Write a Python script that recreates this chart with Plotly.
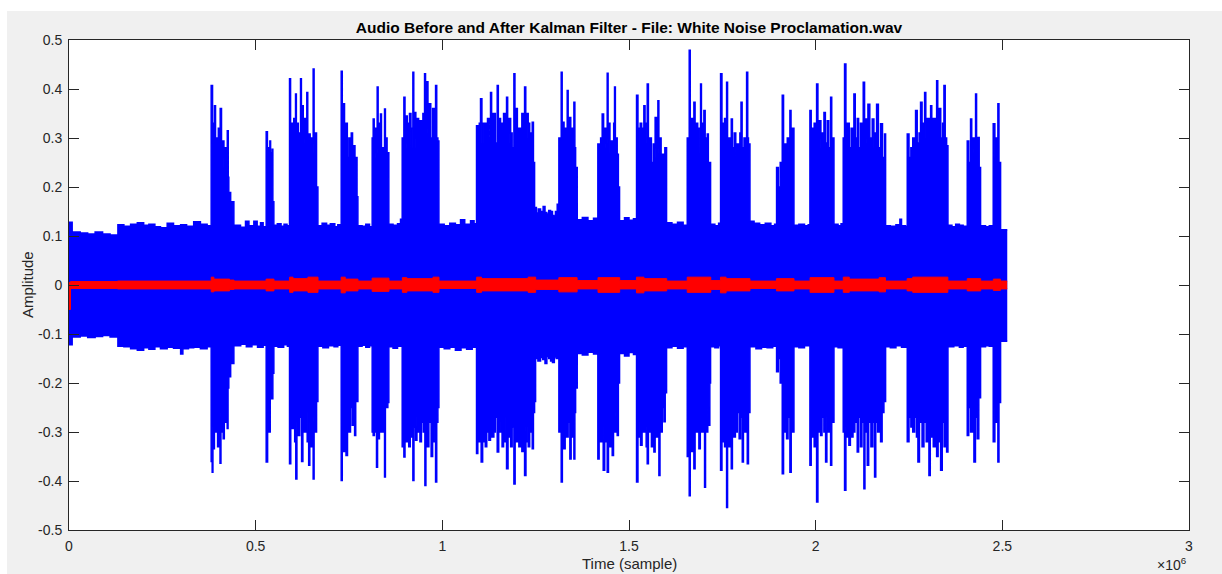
import plotly.graph_objects as go

# ---------------- data (time in units of 1e6 samples) ----------------
# upper envelope of the original (blue) audio, one line per segment
up_t = [0.000, 0.0085, 0.030, 0.050, 0.070, 0.090, 0.110, 0.131, 0.147, 0.165, 0.183, 0.200, 0.214, 0.230, 0.245, 0.263, 0.280, 0.299, 0.315, 0.334, 0.352, 0.370,
        0.3808, 0.3845, 0.3870, 0.3897, 0.3925, 0.3950, 0.3978, 0.4000, 0.4028, 0.4050, 0.4085, 0.4120, 0.4150, 0.4180, 0.4210, 0.4240, 0.4265, 0.4280, 0.4330, 0.4370,
        0.4416, 0.4594, 0.4728, 0.4820, 0.4951, 0.5040, 0.5130, 0.5200,
        0.5282, 0.5315, 0.5340, 0.5365, 0.5380, 0.5400, 0.5420, 0.5443, 0.5460,
        0.5487, 0.5580, 0.5680, 0.5760, 0.5840,
        0.5907, 0.5935, 0.5960, 0.5990, 0.6020, 0.6045, 0.6068, 0.6090, 0.6110, 0.6140, 0.6170, 0.6202, 0.6225, 0.6245, 0.6275, 0.6300, 0.6330, 0.6370, 0.6395, 0.6430, 0.6460, 0.6490, 0.6515, 0.6540, 0.6565, 0.6590, 0.6630,
        0.6667, 0.6780, 0.6900, 0.7000, 0.7120, 0.7200,
        0.7291, 0.7320, 0.7345, 0.7380, 0.7420, 0.7455, 0.7497, 0.7530, 0.7560, 0.7595, 0.7630, 0.7660, 0.7690, 0.7715,
        0.7738, 0.7850, 0.7950, 0.8050,
        0.8121, 0.8148, 0.8175, 0.8200, 0.8230, 0.8255, 0.8280, 0.8300, 0.8320, 0.8344, 0.8370, 0.8400, 0.8425, 0.8452, 0.8475, 0.8500, 0.8520, 0.8540,
        0.8567, 0.8680, 0.8800, 0.8880,
        0.8925, 0.8970, 0.9000, 0.9030, 0.9060, 0.9090, 0.9120, 0.9160, 0.9190, 0.9211, 0.9235, 0.9250, 0.9290, 0.9330, 0.9365, 0.9400, 0.9440, 0.9480, 0.9524, 0.9550, 0.9580, 0.9615, 0.9650, 0.9690, 0.9740, 0.9780, 0.9819, 0.9850, 0.9881,
        0.9908, 1.0050, 1.0200, 1.0350, 1.0488, 1.0600, 1.0756, 1.0850,
        1.0916, 1.0960, 1.0990, 1.1023, 1.1060, 1.1095, 1.1130, 1.1170, 1.1210, 1.1250, 1.1291, 1.1320, 1.1350, 1.1380, 1.1420, 1.1470, 1.1500, 1.1530, 1.1560, 1.1600, 1.1640, 1.1680, 1.1720, 1.1750, 1.1790, 1.1830, 1.1870, 1.1917, 1.1945, 1.1980, 1.2010, 1.2050, 1.2090, 1.2130, 1.2170, 1.2203, 1.2235, 1.2270, 1.2300, 1.2340, 1.2375, 1.2408, 1.2440,
        1.2471, 1.2520, 1.2570, 1.2631, 1.2700, 1.2750, 1.2800, 1.2850, 1.2899, 1.2950, 1.2988, 1.3030, 1.3077,
        1.3122, 1.3184, 1.3210, 1.3230, 1.3260, 1.3300, 1.3345, 1.3370, 1.3400, 1.3440, 1.3480, 1.3524, 1.3550, 1.3570,
        1.3613, 1.3750, 1.3900, 1.4050,
        1.4166, 1.4200, 1.4240, 1.4282, 1.4320, 1.4360, 1.4390, 1.4416, 1.4440, 1.4460, 1.4490, 1.4523, 1.4560, 1.4590, 1.4613, 1.4635, 1.4650, 1.4684, 1.4715,
        1.4747, 1.4880, 1.5000, 1.5120,
        1.5202, 1.5240, 1.5270, 1.5300, 1.5340, 1.5370, 1.5398, 1.5430, 1.5460, 1.5488, 1.5520, 1.5560, 1.5600, 1.5650, 1.5680, 1.5700, 1.5740, 1.5774, 1.5800, 1.5830, 1.5860, 1.5890, 1.5930, 1.5960,
        1.6006, 1.6150, 1.6300, 1.6450,
        1.6560, 1.6613, 1.6640, 1.6660, 1.6700, 1.6738, 1.6770, 1.6800, 1.6840, 1.6880, 1.6917, 1.6940, 1.6960, 1.6985, 1.7006, 1.7040, 1.7070, 1.7096, 1.7125, 1.7150,
        1.7185, 1.7300, 1.7400,
        1.7453, 1.7490, 1.7530, 1.7560, 1.7590, 1.7614, 1.7640, 1.7680, 1.7710, 1.7739, 1.7770, 1.7820, 1.7860, 1.7900, 1.7940, 1.7970, 1.8000, 1.8030, 1.8080, 1.8120, 1.8150, 1.8180, 1.8200,
        1.8240, 1.8350, 1.8500, 1.8650, 1.8800, 1.8900,
        1.8953, 1.9000, 1.9050, 1.9080, 1.9105, 1.9140, 1.9180, 1.9210, 1.9239, 1.9280, 1.9310, 1.9340, 1.9380,
        1.9418, 1.9550, 1.9700, 1.9800,
        1.9846, 1.9880, 1.9920, 1.9960, 2.0000, 2.0025, 2.0060, 2.0100, 2.0140, 2.0180, 2.0222, 2.0260, 2.0311, 2.0350, 2.0400, 2.0430, 2.0450,
        2.0490, 2.0600, 2.0680,
        2.0738, 2.0774, 2.0810, 2.0850, 2.0900, 2.0950, 2.0990, 2.1024, 2.1060, 2.1113, 2.1150, 2.1200, 2.1240, 2.1274, 2.1310, 2.1340, 2.1370, 2.1400, 2.1450, 2.1515, 2.1560, 2.1600, 2.1632, 2.1680, 2.1739, 2.1790, 2.1846,
        2.1873, 2.2000, 2.2150, 2.2256, 2.2300, 2.2400,
        2.2453, 2.2500, 2.2550, 2.2600, 2.2640, 2.2676, 2.2720, 2.2770, 2.2810, 2.2850, 2.2890, 2.2918, 2.2950, 2.2990, 2.3040, 2.3079, 2.3110, 2.3150, 2.3200, 2.3240, 2.3270, 2.3300, 2.3350, 2.3400, 2.3436, 2.3470, 2.3508,
        2.3543, 2.3650, 2.3750, 2.3850, 2.3950,
        2.4060, 2.4100, 2.4149, 2.4180, 2.4220, 2.4250, 2.4283, 2.4310, 2.4346, 2.4380,
        2.4417, 2.4550, 2.4650,
        2.4756, 2.4800, 2.4840, 2.4881, 2.4910,
        2.4953, 2.5132]
up_v = [0.128, 0.108, 0.106, 0.104, 0.108, 0.104, 0.102, 0.123, 0.120, 0.124, 0.127, 0.122, 0.124, 0.119, 0.117, 0.126, 0.121, 0.123, 0.120, 0.129, 0.124, 0.121,
        0.407, 0.290, 0.330, 0.366, 0.270, 0.300, 0.250, 0.320, 0.270, 0.360, 0.260, 0.294, 0.240, 0.280, 0.230, 0.315, 0.220, 0.189, 0.140, 0.170,
        0.122, 0.118, 0.130, 0.121, 0.130, 0.120, 0.127, 0.119,
        0.313, 0.240, 0.280, 0.230, 0.294, 0.220, 0.270, 0.277, 0.170,
        0.122, 0.125, 0.120, 0.124, 0.121,
        0.421, 0.300, 0.330, 0.280, 0.340, 0.290, 0.390, 0.300, 0.330, 0.270, 0.310, 0.421, 0.300, 0.366, 0.290, 0.340, 0.300, 0.393, 0.280, 0.308, 0.250, 0.300, 0.270, 0.441, 0.290, 0.310, 0.200,
        0.121, 0.126, 0.122, 0.125, 0.119, 0.123,
        0.436, 0.300, 0.370, 0.280, 0.330, 0.260, 0.300, 0.240, 0.310, 0.250, 0.284, 0.220, 0.260, 0.180,
        0.121, 0.120, 0.124, 0.119,
        0.300, 0.339, 0.260, 0.320, 0.270, 0.404, 0.280, 0.330, 0.270, 0.349, 0.240, 0.280, 0.250, 0.359, 0.260, 0.300, 0.220, 0.270,
        0.124, 0.122, 0.125, 0.134,
        0.300, 0.383, 0.280, 0.345, 0.290, 0.330, 0.350, 0.280, 0.320, 0.434, 0.300, 0.352, 0.280, 0.340, 0.290, 0.335, 0.300, 0.350, 0.431, 0.320, 0.415, 0.310, 0.370, 0.300, 0.360, 0.310, 0.407, 0.300, 0.294,
        0.124, 0.121, 0.126, 0.123, 0.133, 0.124, 0.131, 0.125,
        0.325, 0.280, 0.330, 0.380, 0.290, 0.330, 0.330, 0.280, 0.340, 0.300, 0.393, 0.300, 0.350, 0.350, 0.290, 0.407, 0.300, 0.340, 0.330, 0.280, 0.350, 0.300, 0.383, 0.290, 0.340, 0.310, 0.280, 0.431, 0.300, 0.360, 0.290, 0.320, 0.280, 0.350, 0.300, 0.404, 0.300, 0.350, 0.330, 0.280, 0.310, 0.332, 0.250,
        0.158, 0.147, 0.155, 0.150, 0.160, 0.148, 0.145, 0.152, 0.150, 0.142, 0.140, 0.150, 0.165,
        0.300, 0.434, 0.300, 0.332, 0.280, 0.320, 0.397, 0.300, 0.342, 0.280, 0.320, 0.373, 0.280, 0.240,
        0.133, 0.138, 0.131, 0.136,
        0.288, 0.240, 0.300, 0.349, 0.280, 0.320, 0.290, 0.432, 0.300, 0.330, 0.270, 0.294, 0.260, 0.330, 0.404, 0.290, 0.300, 0.267, 0.200,
        0.131, 0.137, 0.132, 0.135,
        0.387, 0.280, 0.320, 0.330, 0.270, 0.320, 0.366, 0.290, 0.330, 0.410, 0.280, 0.300, 0.250, 0.288, 0.260, 0.342, 0.280, 0.376, 0.270, 0.300, 0.240, 0.267, 0.220, 0.280,
        0.127, 0.124, 0.128, 0.122,
        0.300, 0.479, 0.300, 0.340, 0.280, 0.373, 0.290, 0.330, 0.270, 0.320, 0.410, 0.290, 0.330, 0.280, 0.356, 0.260, 0.300, 0.308, 0.220, 0.250,
        0.124, 0.121, 0.126,
        0.431, 0.300, 0.330, 0.340, 0.290, 0.414, 0.300, 0.300, 0.260, 0.339, 0.280, 0.310, 0.260, 0.288, 0.250, 0.310, 0.373, 0.280, 0.300, 0.270, 0.434, 0.300, 0.288,
        0.130, 0.126, 0.123, 0.126, 0.121, 0.124,
        0.240, 0.200, 0.250, 0.220, 0.387, 0.280, 0.288, 0.240, 0.300, 0.270, 0.356, 0.280, 0.320,
        0.122, 0.124, 0.121, 0.123,
        0.356, 0.280, 0.320, 0.330, 0.280, 0.410, 0.300, 0.335, 0.280, 0.310, 0.352, 0.290, 0.335, 0.280, 0.383, 0.280, 0.300,
        0.124, 0.121, 0.125,
        0.300, 0.451, 0.300, 0.330, 0.280, 0.320, 0.280, 0.390, 0.300, 0.340, 0.280, 0.330, 0.290, 0.414, 0.300, 0.339, 0.290, 0.369, 0.300, 0.339, 0.280, 0.310, 0.369, 0.280, 0.329, 0.260, 0.308,
        0.121, 0.120, 0.123, 0.134, 0.121, 0.120,
        0.308, 0.260, 0.280, 0.300, 0.260, 0.356, 0.290, 0.310, 0.373, 0.290, 0.330, 0.393, 0.300, 0.340, 0.290, 0.366, 0.290, 0.340, 0.300, 0.417, 0.310, 0.360, 0.300, 0.330, 0.407, 0.300, 0.284,
        0.122, 0.119, 0.124, 0.122, 0.120,
        0.294, 0.250, 0.339, 0.270, 0.300, 0.280, 0.390, 0.280, 0.301, 0.240,
        0.121, 0.119, 0.121,
        0.329, 0.260, 0.300, 0.370, 0.250,
        0.113, 0.113]

# lower envelope of the original (blue) audio, one line per segment
lo_t = [0.000, 0.0085, 0.030, 0.050, 0.070, 0.090, 0.110, 0.131, 0.147, 0.165, 0.183, 0.200, 0.214, 0.230, 0.245, 0.263, 0.280, 0.299, 0.305, 0.320, 0.334, 0.352, 0.370,
        0.3808, 0.3835, 0.3855, 0.3870, 0.3895, 0.3920, 0.3950, 0.3980, 0.4010, 0.4045, 0.4070, 0.4090, 0.4110, 0.4130, 0.4160, 0.4190, 0.4215, 0.4237, 0.4260, 0.4280, 0.4330, 0.4370,
        0.4416, 0.4600, 0.4750, 0.4900, 0.5050, 0.5200,
        0.5282, 0.5320, 0.5360, 0.5390, 0.5425, 0.5460,
        0.5487, 0.5600, 0.5750, 0.5850,
        0.5907, 0.5940, 0.5970, 0.6010, 0.6045, 0.6075, 0.6105, 0.6140, 0.6180, 0.6230, 0.6265, 0.6300, 0.6340, 0.6380, 0.6420, 0.6450, 0.6480, 0.6510, 0.6540, 0.6565, 0.6590, 0.6631,
        0.6667, 0.6800, 0.6950, 0.7100, 0.7200,
        0.7291, 0.7320, 0.7350, 0.7385, 0.7420, 0.7460, 0.7500, 0.7540, 0.7586, 0.7620, 0.7650, 0.7680, 0.7700,
        0.7738, 0.7850, 0.7950, 0.8050,
        0.8121, 0.8148, 0.8180, 0.8210, 0.8237, 0.8265, 0.8290, 0.8315, 0.8340, 0.8380, 0.8420, 0.8452, 0.8475, 0.8500, 0.8540,
        0.8567, 0.8680, 0.8800,
        0.8925, 0.8970, 0.9000, 0.9040, 0.9070, 0.9100, 0.9140, 0.9180, 0.9211, 0.9240, 0.9283, 0.9320, 0.9360, 0.9400, 0.9440, 0.9490, 0.9533, 0.9560, 0.9600, 0.9640, 0.9700, 0.9740, 0.9780, 0.9819, 0.9850, 0.9881,
        0.9908, 1.0050, 1.0200, 1.0350, 1.0500, 1.0650, 1.0800,
        1.0916, 1.0950, 1.0990, 1.1040, 1.1080, 1.1115, 1.1150, 1.1190, 1.1220, 1.1247, 1.1290, 1.1330, 1.1380, 1.1420, 1.1470, 1.1510, 1.1550, 1.1600, 1.1640, 1.1680, 1.1720, 1.1760, 1.1800, 1.1830, 1.1870, 1.1917, 1.1950, 1.1990, 1.2050, 1.2090, 1.2130, 1.2170, 1.2203, 1.2240, 1.2270, 1.2300, 1.2340, 1.2375, 1.2408, 1.2440, 1.2471,
        1.2498, 1.2560, 1.2631, 1.2690, 1.2750, 1.2800, 1.2850, 1.2900, 1.2950, 1.3000, 1.3050,
        1.3122, 1.3184, 1.3215, 1.3250, 1.3290, 1.3330, 1.3370, 1.3416, 1.3450, 1.3490, 1.3524, 1.3550, 1.3570,
        1.3613, 1.3750, 1.3900, 1.4050,
        1.4166, 1.4200, 1.4240, 1.4280, 1.4309, 1.4350, 1.4390, 1.4416, 1.4450, 1.4480, 1.4515, 1.4550, 1.4585, 1.4620, 1.4650, 1.4684, 1.4715,
        1.4747, 1.4880, 1.5000, 1.5120,
        1.5202, 1.5240, 1.5270, 1.5309, 1.5350, 1.5390, 1.5430, 1.5460, 1.5488, 1.5520, 1.5560, 1.5600, 1.5630, 1.5667, 1.5700, 1.5740, 1.5770, 1.5801, 1.5830, 1.5850, 1.5890, 1.5935, 1.5970,
        1.6006, 1.6150, 1.6300, 1.6450,
        1.6560, 1.6613, 1.6640, 1.6670, 1.6700, 1.6738, 1.6770, 1.6800, 1.6840, 1.6872, 1.6910, 1.6950, 1.6990, 1.7024, 1.7050, 1.7080, 1.7110, 1.7140, 1.7165,
        1.7185, 1.7300, 1.7400,
        1.7453, 1.7490, 1.7530, 1.7560, 1.7590, 1.7614, 1.7640, 1.7680, 1.7710, 1.7739, 1.7770, 1.7810, 1.7850, 1.7900, 1.7950, 1.7990, 1.8034, 1.8065, 1.8100, 1.8135, 1.8168, 1.8200,
        1.8240, 1.8400, 1.8550, 1.8700, 1.8850,
        1.8953, 1.9000, 1.9050, 1.9080, 1.9105, 1.9140, 1.9180, 1.9221, 1.9260, 1.9310, 1.9345, 1.9380,
        1.9418, 1.9550, 1.9700,
        1.9846, 1.9880, 1.9920, 1.9960, 2.0000, 2.0025, 2.0060, 2.0100, 2.0132, 2.0170, 2.0220, 2.0266, 2.0300, 2.0330, 2.0370, 2.0400, 2.0430, 2.0460,
        2.0490, 2.0600,
        2.0738, 2.0774, 2.0810, 2.0850, 2.0890, 2.0930, 2.0970, 2.1000, 2.1050, 2.1113, 2.1150, 2.1200, 2.1240, 2.1292, 2.1320, 2.1350, 2.1382, 2.1420, 2.1480, 2.1530, 2.1578, 2.1610, 2.1660, 2.1700, 2.1739, 2.1780, 2.1828,
        2.1873, 2.2000, 2.2150, 2.2300,
        2.2453, 2.2500, 2.2550, 2.2600, 2.2650, 2.2700, 2.2739, 2.2780, 2.2850, 2.2900, 2.2960, 2.3000, 2.3034, 2.3070, 2.3110, 2.3150, 2.3200, 2.3240, 2.3280, 2.3320, 2.3347, 2.3390, 2.3440, 2.3480, 2.3508,
        2.3543, 2.3700, 2.3850, 2.3950,
        2.4060, 2.4100, 2.4150, 2.4200, 2.4239, 2.4280, 2.4328, 2.4370,
        2.4417, 2.4550, 2.4650,
        2.4756, 2.4800, 2.4840, 2.4881, 2.4910,
        2.4953, 2.5132]
lo_v = [-0.122, -0.106, -0.104, -0.107, -0.105, -0.103, -0.106, -0.125, -0.126, -0.130, -0.133, -0.128, -0.131, -0.126, -0.130, -0.127, -0.129, -0.141, -0.130, -0.128, -0.127, -0.130, -0.126,
        -0.360, -0.382, -0.290, -0.334, -0.270, -0.300, -0.260, -0.330, -0.270, -0.364, -0.260, -0.300, -0.250, -0.314, -0.240, -0.280, -0.230, -0.293, -0.210, -0.187, -0.140, -0.160,
        -0.124, -0.121, -0.126, -0.122, -0.127, -0.123,
        -0.361, -0.260, -0.300, -0.230, -0.232, -0.180,
        -0.125, -0.127, -0.122, -0.125,
        -0.365, -0.270, -0.293, -0.260, -0.320, -0.396, -0.280, -0.307, -0.270, -0.360, -0.280, -0.300, -0.260, -0.320, -0.368, -0.280, -0.330, -0.270, -0.396, -0.280, -0.300, -0.238,
        -0.125, -0.128, -0.124, -0.126, -0.123,
        -0.399, -0.290, -0.340, -0.280, -0.348, -0.260, -0.300, -0.250, -0.286, -0.240, -0.307, -0.220, -0.238,
        -0.125, -0.123, -0.127, -0.124,
        -0.300, -0.307, -0.260, -0.300, -0.372, -0.270, -0.314, -0.260, -0.300, -0.260, -0.300, -0.392, -0.250, -0.250, -0.240,
        -0.126, -0.129, -0.125,
        -0.330, -0.351, -0.280, -0.320, -0.270, -0.330, -0.280, -0.310, -0.399, -0.290, -0.317, -0.270, -0.300, -0.320, -0.280, -0.300, -0.409, -0.300, -0.330, -0.280, -0.350, -0.290, -0.320, -0.402, -0.280, -0.250,
        -0.127, -0.130, -0.127, -0.133, -0.128, -0.131, -0.127,
        -0.344, -0.280, -0.320, -0.361, -0.280, -0.320, -0.330, -0.270, -0.300, -0.317, -0.270, -0.310, -0.300, -0.270, -0.341, -0.280, -0.300, -0.330, -0.270, -0.320, -0.375, -0.280, -0.310, -0.330, -0.290, -0.406, -0.290, -0.320, -0.330, -0.280, -0.340, -0.300, -0.389, -0.290, -0.320, -0.330, -0.270, -0.300, -0.334, -0.260, -0.238,
        -0.150, -0.155, -0.148, -0.152, -0.160, -0.146, -0.150, -0.155, -0.158, -0.147, -0.150,
        -0.300, -0.402, -0.280, -0.334, -0.270, -0.310, -0.280, -0.355, -0.280, -0.310, -0.355, -0.260, -0.210,
        -0.140, -0.143, -0.137, -0.141,
        -0.355, -0.280, -0.320, -0.290, -0.378, -0.290, -0.320, -0.382, -0.280, -0.330, -0.280, -0.348, -0.270, -0.300, -0.260, -0.307, -0.200,
        -0.140, -0.145, -0.138, -0.142,
        -0.402, -0.280, -0.310, -0.327, -0.270, -0.300, -0.290, -0.330, -0.365, -0.280, -0.300, -0.330, -0.270, -0.341, -0.280, -0.310, -0.290, -0.389, -0.280, -0.300, -0.250, -0.279, -0.220,
        -0.128, -0.125, -0.129, -0.126,
        -0.350, -0.430, -0.290, -0.340, -0.280, -0.375, -0.280, -0.300, -0.270, -0.334, -0.280, -0.300, -0.270, -0.413, -0.270, -0.300, -0.250, -0.286, -0.200,
        -0.126, -0.128, -0.124,
        -0.378, -0.280, -0.320, -0.330, -0.280, -0.454, -0.300, -0.330, -0.270, -0.375, -0.280, -0.310, -0.300, -0.260, -0.314, -0.270, -0.361, -0.270, -0.300, -0.280, -0.365, -0.260,
        -0.126, -0.130, -0.127, -0.128, -0.125,
        -0.177, -0.150, -0.200, -0.180, -0.385, -0.280, -0.300, -0.314, -0.270, -0.382, -0.280, -0.300,
        -0.126, -0.128, -0.124,
        -0.368, -0.280, -0.310, -0.330, -0.280, -0.443, -0.300, -0.290, -0.307, -0.270, -0.300, -0.361, -0.270, -0.300, -0.280, -0.368, -0.270, -0.280,
        -0.126, -0.128,
        -0.300, -0.419, -0.290, -0.310, -0.327, -0.270, -0.310, -0.300, -0.280, -0.341, -0.270, -0.330, -0.280, -0.416, -0.290, -0.300, -0.368, -0.280, -0.330, -0.280, -0.392, -0.280, -0.300, -0.270, -0.320, -0.260, -0.238,
        -0.126, -0.128, -0.124, -0.127,
        -0.320, -0.270, -0.290, -0.300, -0.270, -0.310, -0.361, -0.280, -0.330, -0.280, -0.320, -0.290, -0.389, -0.280, -0.310, -0.330, -0.280, -0.350, -0.290, -0.320, -0.378, -0.280, -0.330, -0.270, -0.341,
        -0.126, -0.124, -0.127, -0.125,
        -0.307, -0.250, -0.300, -0.260, -0.361, -0.270, -0.314, -0.230,
        -0.126, -0.124, -0.125,
        -0.320, -0.250, -0.280, -0.361, -0.240,
        -0.115, -0.115]

# envelope of the Kalman-filtered (red) audio
red_t = [0.000, 0.004, 0.130, 0.381, 0.388, 0.430, 0.442, 0.528, 0.549, 0.591, 0.600, 0.640, 0.667, 0.729, 0.740,
         0.774, 0.812, 0.857, 0.893, 0.905, 0.975, 0.991, 1.092, 1.105, 1.230, 1.250, 1.312, 1.361, 1.417, 1.475,
         1.520, 1.540, 1.601, 1.656, 1.719, 1.745, 1.760, 1.824, 1.895, 1.942, 1.985, 2.049, 2.074, 2.090, 2.170,
         2.187, 2.245, 2.260, 2.354, 2.406, 2.442, 2.476, 2.495, 2.513]
red_hi = [0.005, 0.007, 0.008, 0.016, 0.012, 0.010, 0.008, 0.012, 0.008, 0.016, 0.013, 0.016, 0.008, 0.016, 0.012,
          0.008, 0.014, 0.008, 0.015, 0.013, 0.016, 0.008, 0.016, 0.013, 0.016, 0.010, 0.015, 0.009, 0.015, 0.009,
          0.016, 0.013, 0.008, 0.016, 0.009, 0.016, 0.013, 0.008, 0.013, 0.008, 0.015, 0.008, 0.016, 0.012, 0.015,
          0.008, 0.013, 0.016, 0.008, 0.013, 0.008, 0.012, 0.008, 0.008]
red_lo = [-0.050, -0.007, -0.008, -0.014, -0.012, -0.009, -0.008, -0.012, -0.008, -0.015, -0.012, -0.015, -0.008, -0.016, -0.012,
          -0.008, -0.013, -0.008, -0.015, -0.012, -0.015, -0.007, -0.015, -0.012, -0.015, -0.009, -0.014, -0.008, -0.015, -0.008,
          -0.016, -0.012, -0.008, -0.015, -0.009, -0.016, -0.012, -0.007, -0.012, -0.008, -0.015, -0.008, -0.015, -0.012, -0.014,
          -0.008, -0.012, -0.015, -0.008, -0.012, -0.008, -0.011, -0.008, -0.008]

assert len(up_t) == len(up_v) and len(lo_t) == len(lo_v)
assert len(red_t) == len(red_hi) == len(red_lo)

x_tickvals = [0, 0.5, 1, 1.5, 2, 2.5, 3]
x_ticktext = ["0", "0.5", "1", "1.5", "2", "2.5", "3"]
y_tickvals = [-0.5, -0.4, -0.3, -0.2, -0.1, 0, 0.1, 0.2, 0.3, 0.4, 0.5]
y_ticktext = ["-0.5", "-0.4", "-0.3", "-0.2", "-0.1", "0", "0.1", "0.2", "0.3", "0.4", "0.5"]

TITLE = "Audio Before and After Kalman Filter - File: White Noise Proclamation.wav"
XLABEL = "Time (sample)"
YLABEL = "Amplitude"

BLUE = "#0000ff"
RED = "#ff0000"
AX = "#262626"
FONT = "Liberation Sans, Arial, Helvetica, sans-serif"

fig = go.Figure()
fig.add_trace(go.Scatter(x=up_t, y=up_v, mode="lines", line=dict(color=BLUE, width=1.5, shape="hv"),
                         hoverinfo="skip", showlegend=False))
fig.add_trace(go.Scatter(x=lo_t, y=lo_v, mode="lines", line=dict(color=BLUE, width=1.5, shape="hv"),
                         fill="tonexty", fillcolor=BLUE, hoverinfo="skip", showlegend=False))
fig.add_trace(go.Scatter(x=red_t, y=red_hi, mode="lines", line=dict(color=RED, width=1, shape="hv"),
                         hoverinfo="skip", showlegend=False))
fig.add_trace(go.Scatter(x=red_t, y=red_lo, mode="lines", line=dict(color=RED, width=1, shape="hv"),
                         fill="tonexty", fillcolor=RED, hoverinfo="skip", showlegend=False))

W, H = 1222, 574
ML, MR, MT, MB = 69, 33, 40, 44
PW, PH = W - ML - MR, H - MT - MB

axis_common = dict(showline=True, linecolor=AX, linewidth=1, mirror="ticks", ticks="inside",
                   ticklen=10, tickcolor=AX, tickwidth=1, showgrid=False, zeroline=False,
                   tickfont=dict(family=FONT, size=14, color=AX))

fig.update_layout(
    template="none",
    width=W, height=H,
    margin=dict(l=ML, r=MR, t=MT, b=MB, pad=0),
    paper_bgcolor="#f0f0f0",
    plot_bgcolor="#ffffff",
    showlegend=False,
    title=dict(text="<b>" + TITLE + "</b>", x=0.5, xref="paper", xanchor="center",
               y=1 - 28 / H, yref="container", yanchor="middle",
               font=dict(family=FONT, size=15.5, color="#000000")),
    xaxis=dict(range=[0, 3], tickvals=x_tickvals, ticktext=x_ticktext, ticklabelstandoff=3, **axis_common),
    yaxis=dict(range=[-0.5, 0.5], tickvals=y_tickvals, ticktext=y_ticktext, ticklabelstandoff=3, **axis_common),
    annotations=[
        dict(text=XLABEL, x=0.5, xref="paper", y=-(563 - (H - MB)) / PH, yref="paper",
             xanchor="center", yanchor="middle", showarrow=False,
             font=dict(family=FONT, size=15, color=AX)),
        dict(text=YLABEL, x=(27 - ML) / PW, xref="paper", y=0.5, yref="paper", textangle=-90,
             xanchor="center", yanchor="middle", showarrow=False,
             font=dict(family=FONT, size=15, color=AX)),
        dict(text="\u00d710<sup>6</sup>", x=(1189 - ML) / PW, xref="paper", y=-(564 - (H - MB)) / PH,
             yref="paper", xanchor="right", yanchor="middle", showarrow=False,
             font=dict(family=FONT, size=14, color=AX)),
    ],
    shapes=[
        dict(type="rect", xref="paper", yref="paper", x0=-ML / PW - 0.01, x1=1 + MR / PW + 0.01,
             y0=1 + (MT - 11) / PH, y1=1 + MT / PH + 0.01, fillcolor="#ffffff", line=dict(width=0), layer="above"),
        dict(type="rect", xref="paper", yref="paper", x0=-ML / PW - 0.01, x1=-(ML - 7) / PW,
             y0=-MB / PH - 0.01, y1=1 + MT / PH + 0.01, fillcolor="#ffffff", line=dict(width=0), layer="above"),
    ],
)

fig.write_html("out.html", config={"displayModeBar": False},
               post_script="document.body.style.margin='0px';")
